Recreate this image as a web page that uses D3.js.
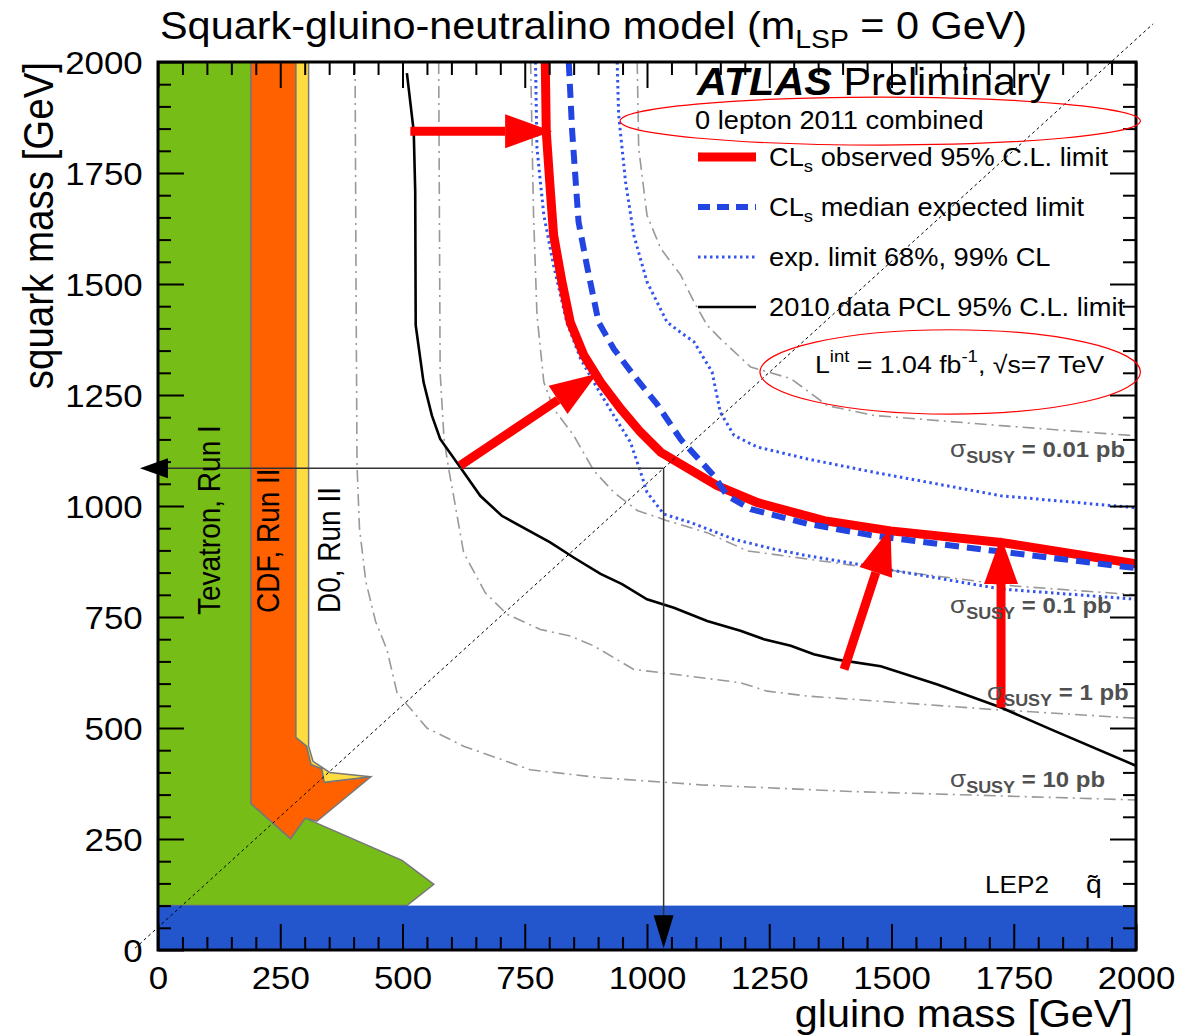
<!DOCTYPE html>
<html><head><meta charset="utf-8">
<script src="https://cdn.jsdelivr.net/npm/d3@7"></script>
<style>body{margin:0;background:#fff}svg{display:block}text{font-family:"Liberation Sans",Arial,Helvetica,sans-serif}</style>
</head><body><svg id="c" width="1183" height="1036"></svg>
<script>
// ---------- data (GeV) ----------
const majorTicks = [0,250,500,750,1000,1250,1500,1750,2000];
const minorTicks = d3.range(0,2001,50).filter(v=>v%250!==0);
const tevatronRunI = [[0,100],[0,2000],[190,2000],[190,330],[271,251],[301,297],[499,202],[564,148],[509,100]];
const cdfRunII = [[190,2000],[282,2000],[282,479],[304,459],[313,418],[335,408],[340,378],[435,390],[325,290],[301,297],[271,251],[190,330]];
const d0RunII = [[282,2000],[308,2000],[308,459],[317,425],[351,400],[435,390],[340,378],[335,408],[313,418],[304,459],[282,479]];
const lep2Squark = [0,100];
const obsLimit = [[792,2000],[794,1843],[802,1715],[809,1610],[826,1505],[843,1414],[871,1339],[905,1279],[946,1219],[987,1166],[1028,1121],[1143,1046],[1225,1008],[1362,967],[1498,944],[1724,918],[2000,870]];
const expLimit = [[840,2000],[847,1843],[860,1640],[877,1542],[901,1414],[932,1354],[973,1294],[1020,1230],[1069,1150],[1137,1068],[1164,1023],[1212,993],[1328,960],[1464,933],[1710,899],[2000,860]];
const expMinus = [[772,2000],[775,1806],[789,1655],[809,1542],[836,1414],[864,1332],[891,1279],[932,1204],[966,1144],[987,1076],[1000,1031],[1034,982],[1089,963],[1178,925],[1259,903],[1328,888],[1430,869],[1724,813],[2000,790]];
const expPlus = [[939,2000],[942,1881],[956,1731],[973,1610],[1000,1505],[1041,1414],[1070,1390],[1096,1370],[1133,1302],[1150,1211],[1178,1159],[1225,1133],[1328,1106],[1464,1076],[1724,1023],[2000,996]];
const pcl2010 = [[509,1975],[523,1843],[526,1708],[527,1407],[543,1279],[560,1204],[577,1151],[618,1087],[659,1023],[703,978],[802,918],[850,884],[905,847],[949,824],[1000,790],[1055,771],[1123,741],[1191,719],[1239,700],[1294,685],[1341,666],[1389,654],[1478,639],[1594,598],[1724,546],[1826,497],[2000,415]];
const sigma001 = [[980,2000],[983,1806],[1000,1655],[1028,1580],[1069,1520],[1096,1460],[1123,1407],[1150,1377],[1212,1313],[1294,1287],[1369,1226],[1464,1204],[1724,1181],[2000,1158]];
const sigma01 = [[762,2000],[768,1655],[775,1430],[789,1279],[809,1219],[850,1159],[891,1080],[932,1031],[980,990],[1041,967],[1123,940],[1205,899],[1259,891],[1430,865],[1750,820],[2000,800]];
const sigma1 = [[574,2000],[577,1300],[585,1150],[595,1080],[608,1001],[625,895],[669,805],[714,756],[782,722],[843,707],[891,685],[973,632],[1055,621],[1191,602],[1246,583],[1328,572],[1478,560],[1703,542],[2000,522]];
const sigma10 = [[403,2000],[405,1500],[407,1091],[412,950],[425,830],[445,740],[468,677],[489,579],[509,553],[550,500],[625,459],[700,430],[761,406],[905,388],[1110,372],[1417,357],[2000,338]];
const diagonal = [[-47,4],[2035,2086]];
const guideH = [[-37,1085],[1034,1085]];
const guideV = [[1034,1085],[1034,4]];
const redArrows = [[[516,1844],[806,1844]],[[618,1091],[898,1298]],[[1403,632],[1498,951]],[[1724,546],[1724,930]]];
const ellipses = [[1477,1867,532,54],[1620,1302,389,95]];
const sigmaLabels = ["0.01","0.1","1","10"];
const legendLabels = ["observed 95% C.L. limit","median expected limit","exp. limit 68%, 99% CL","2010 data PCL 95% C.L. limit"];
const bandLabels = ["Tevatron, Run I","CDF, Run II","D0, Run II"];

// ---------- drawing ----------
const svg = d3.select("#c");
const x = d3.scaleLinear().domain([0,2000]).range([158,1136]);
const y = d3.scaleLinear().domain([0,2000]).range([950,62]);
const SX = 1.09;
const line = d3.line().x(d=>x(d[0])).y(d=>y(d[1]));

svg.append("clipPath").attr("id","pc").append("rect")
  .attr("x",x(0)).attr("y",y(2000)).attr("width",x(2000)-x(0)).attr("height",y(0)-y(2000));
const plot = svg.append("g").attr("clip-path","url(#pc)");

plot.append("path").attr("d",line(tevatronRunI)+"Z").attr("fill","#77bd17").attr("stroke","#777").attr("stroke-width",1.5);
plot.append("path").attr("d",line(cdfRunII)+"Z").attr("fill","#ff6000").attr("stroke","#777").attr("stroke-width",1.5);
plot.append("path").attr("d",line(d0RunII)+"Z").attr("fill","#ffdc40").attr("stroke","#777").attr("stroke-width",1.5);
plot.append("rect").attr("x",x(0)).attr("width",x(2000)-x(0)).attr("y",y(lep2Squark[1])).attr("height",y(lep2Squark[0])-y(lep2Squark[1])).attr("fill","#2356cc");

[sigma001,sigma01,sigma1,sigma10].forEach(s=>plot.append("path").attr("d",line(s)).attr("fill","none")
  .attr("stroke","#999").attr("stroke-width",1.6).attr("stroke-dasharray","12,5,2,5"));
[expMinus,expPlus].forEach(s=>plot.append("path").attr("d",line(s)).attr("fill","none")
  .attr("stroke","#3355ee").attr("stroke-width",3).attr("stroke-dasharray","2.5,3.5"));
plot.append("path").attr("d",line(pcl2010)).attr("fill","none").attr("stroke","#000").attr("stroke-width",2.6);
plot.append("path").attr("d",line(obsLimit)).attr("fill","none").attr("stroke","#ff0000").attr("stroke-width",9);
plot.append("path").attr("d",line(expLimit)).attr("fill","none").attr("stroke","#2244e0").attr("stroke-width",6).attr("stroke-dasharray","14,8");

// diagonal (not clipped)
svg.append("path").attr("d",line(diagonal)).attr("stroke","#000").attr("stroke-width",1).attr("stroke-dasharray","3,3").attr("fill","none");

// guide lines with arrowheads
function head(g, p0, p1, len, hw, col){
  const dx=p1[0]-p0[0], dy=p1[1]-p0[1], L=Math.hypot(dx,dy), ux=dx/L, uy=dy/L;
  const bx=p1[0]-ux*len, by=p1[1]-uy*len;
  g.append("path").attr("d",`M${p1[0]},${p1[1]}L${bx-uy*hw},${by+ux*hw}L${bx+uy*hw},${by-ux*hw}Z`).attr("fill",col);
  return [bx,by];
}
const ga = svg.append("g");
const gh = guideH.map(d=>[x(d[0]),y(d[1])]);
const gv = guideV.map(d=>[x(d[0]),y(d[1])]);
ga.append("line").attr("x1",gh[1][0]).attr("y1",gh[1][1]).attr("x2",gh[0][0]+10).attr("y2",gh[0][1]).attr("stroke","#333").attr("stroke-width",1.5);
head(ga,gh[1],gh[0],28,10,"#000");
ga.append("line").attr("x1",gv[0][0]).attr("y1",gv[0][1]).attr("x2",gv[1][0]).attr("y2",gv[1][1]-10).attr("stroke","#333").attr("stroke-width",1.5);
head(ga,gv[0],gv[1],33,10,"#000");

// red arrows
redArrows.forEach(a=>{
  const p0=[x(a[0][0]),y(a[0][1])], p1=[x(a[1][0]),y(a[1][1])];
  const b = head(ga,p0,p1,47,17,"#ff0000");
  ga.append("line").attr("x1",p0[0]).attr("y1",p0[1]).attr("x2",b[0]).attr("y2",b[1]).attr("stroke","#ff0000").attr("stroke-width",9);
});

// axes
function ax(gen, tx, ty, vals, size, labels){
  const g = svg.append("g").attr("transform",`translate(${tx},${ty})`)
    .call(gen.tickValues(vals).tickSizeInner(-size).tickSizeOuter(0).tickFormat(labels?d3.format("d"):""));
  g.select(".domain").remove();
  g.selectAll(".tick line").attr("stroke","#000").attr("stroke-width",2);
  g.selectAll("text").attr("font-size",32).attr("fill","#000").attr("font-family","Liberation Sans, Arial, sans-serif");
  return g;
}
const bx = ax(d3.axisBottom(x).tickPadding(16), 0, y(0), majorTicks, 26, true);
bx.selectAll("text").attr("transform",`scale(${SX},1)`);
ax(d3.axisBottom(x), 0, y(0), minorTicks, 13, false);
const ly = ax(d3.axisLeft(y).tickPadding(14), x(0), 0, majorTicks, 26, true);
ly.selectAll("text").attr("transform",`scale(${SX},1)`).attr("dy","0.37em");
ax(d3.axisLeft(y), x(0), 0, minorTicks, 13, false);
ax(d3.axisTop(x), 0, y(2000), majorTicks, 26, false);
ax(d3.axisTop(x), 0, y(2000), minorTicks, 13, false);
ax(d3.axisRight(y), x(2000), 0, majorTicks, 26, false);
ax(d3.axisRight(y), x(2000), 0, minorTicks, 13, false);
svg.append("rect").attr("x",x(0)).attr("y",y(2000)).attr("width",x(2000)-x(0)).attr("height",y(0)-y(2000))
  .attr("fill","none").attr("stroke","#000").attr("stroke-width",3);

// ellipses
ellipses.forEach(e=>svg.append("ellipse").attr("cx",x(e[0])).attr("cy",y(e[1]))
  .attr("rx",x(e[2])-x(0)).attr("ry",y(0)-y(e[3])).attr("fill","none").attr("stroke","#ff0000").attr("stroke-width",1.2));

// text helper
function T(px,py,size,opts={}){
  let tr = `translate(${px},${py}) scale(${SX},1)` + (opts.rot?" rotate(-90)":"");
  return svg.append("text").attr("transform",tr).attr("font-size",size)
    .attr("text-anchor",opts.anchor||"start").attr("fill",opts.fill||"#000")
    .attr("font-weight",opts.weight||"normal").attr("font-style",opts.style||"normal");
}
// title
const tt = T(160,39,38);
tt.append("tspan").text("Squark-gluino-neutralino model (m");
tt.append("tspan").attr("font-size",26).attr("dy",9).text("LSP");
tt.append("tspan").attr("dy",-9).text(" = 0 GeV)");
// axis titles
T(1133,1027,38,{anchor:"end"}).text("gluino mass [GeV]");
T(53,62,38.5,{anchor:"end",rot:true}).text("squark mass [GeV]");
// band labels
T(220,615,28,{rot:true}).text(bandLabels[0]);
T(279,613,28,{rot:true}).text(bandLabels[1]);
T(340,613,28,{rot:true}).text(bandLabels[2]);
// ATLAS
const at = T(697,95,38);
at.append("tspan").attr("font-weight","bold").attr("font-style","italic").text("ATLAS");
at.append("tspan").text(" Preliminary");
T(695,129,25).text("0 lepton 2011 combined");
// legend
const legY=[157,207,257,307];
const legSty=[{c:"#ff0000",w:9,d:null},{c:"#2244e0",w:6,d:"12,7"},{c:"#3355ee",w:3,d:"2.5,3.5"},{c:"#000",w:2.6,d:null}];
legendLabels.forEach((lab,i)=>{
  const l=svg.append("line").attr("x1",698).attr("x2",756).attr("y1",legY[i]).attr("y2",legY[i])
    .attr("stroke",legSty[i].c).attr("stroke-width",legSty[i].w);
  if(legSty[i].d) l.attr("stroke-dasharray",legSty[i].d);
  const t=T(769,legY[i]+9,25);
  if(i<2){ t.append("tspan").text("CL"); t.append("tspan").attr("font-size",17).attr("dy",6).text("s");
    t.append("tspan").attr("dy",-6).text(" "+lab); }
  else t.text(lab);
});
const li = T(815,373,24.5);
li.append("tspan").text("L");
li.append("tspan").attr("font-size",17).attr("dy",-11).text("int");
li.append("tspan").attr("dy",11).text(" = 1.04 fb");
li.append("tspan").attr("font-size",17).attr("dy",-11).text("-1");
li.append("tspan").attr("dy",11).text(", \u221As=7 TeV");
// sigma labels
const sigX=[950,950,987,950], sigY=[457,613,700,787];
sigmaLabels.forEach((s,i)=>{
  const t=T(sigX[i],sigY[i],22,{fill:"#505050"});
  t.append("tspan").attr("font-size",24).text("\u03C3");
  t.append("tspan").attr("font-size",16.5).attr("font-weight","bold").attr("dy",6).text("SUSY");
  t.append("tspan").attr("font-weight","bold").attr("dy",-6).text(" = "+s+" pb");
});
// LEP2 squark
const lep = T(985,893,24);
lep.append("tspan").text("LEP2");
lep.append("tspan").attr("x",101/SX).attr("font-size",26).attr("font-family","Liberation Sans, DejaVu Sans, sans-serif").text("q\u0303");
</script></body></html>
